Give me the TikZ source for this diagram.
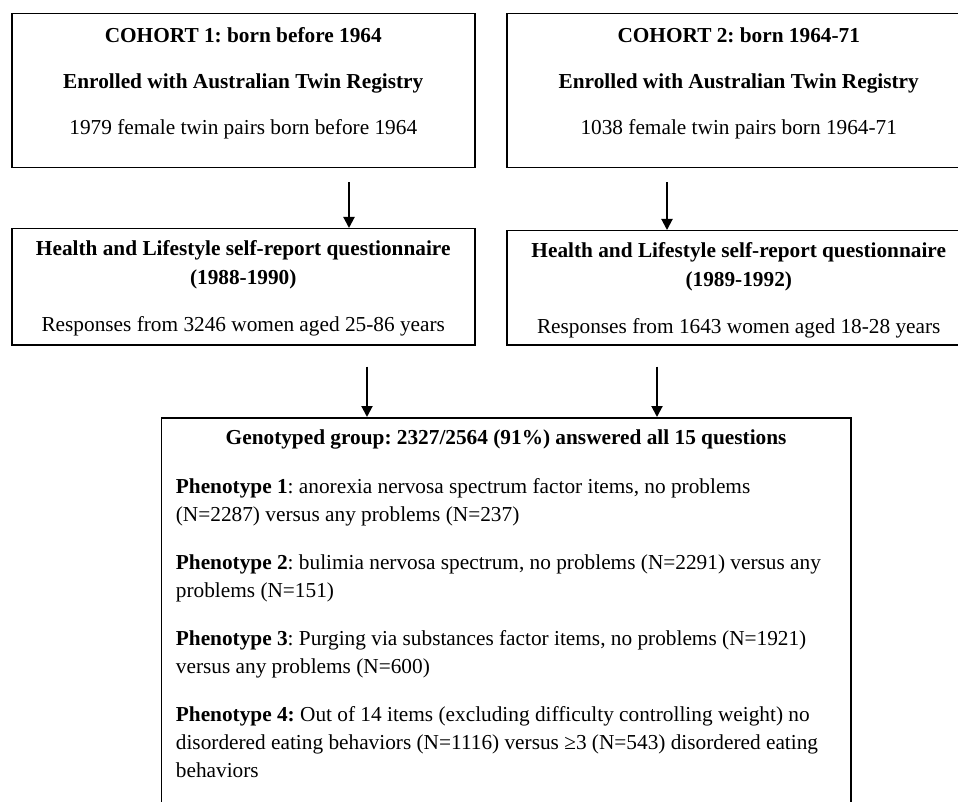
\documentclass[tikz,border=0pt]{standalone}
\usepackage{fontspec}
\setmainfont{Liberation Serif}
\usetikzlibrary{arrows.meta}
\tikzset{
  box/.style={draw=black, line width=1.5pt, inner sep=0pt, anchor=north west},
  txt/.style={inner sep=0pt, align=center, font=\fontsize{21.3}{28.5}\selectfont},
  ltxt/.style={inner sep=0pt, align=left, font=\fontsize{21.3}{28}\selectfont},
  arr/.style={line width=2pt, -{Triangle[length=11pt,width=11pt]}}
}
\begin{document}
\frenchspacing
\begin{tikzpicture}[x=1pt,y=-1pt]
\useasboundingbox (0,0) rectangle (958,802);
\clip (0,0) rectangle (958,802);
\fill[white] (0,0) rectangle (958,802);
% boxes
\node[box, minimum width=463pt, minimum height=154pt] (b1) at (11,13) {};
\node[box, minimum width=464pt, minimum height=154pt] (b2) at (506,13) {};
\node[box, minimum width=463pt, minimum height=116pt] (b3) at (11,228) {};
\node[box, minimum width=464pt, minimum height=114pt] (b4) at (506,230) {};
\node[box, minimum width=689.3pt, minimum height=420pt] (b5) at (160.7,417) {};
% helper x positions for the arrows
\coordinate (x1) at (349,0);
\coordinate (x2) at (667,0);
\coordinate (x3) at (367,0);
\coordinate (x4) at (657,0);
% texts
\node[txt, anchor=north] (t1) at ([yshift=-14.5pt]b1.north)
  {\textbf{COHORT 1: born before 1964}\\[17.5pt]
   \textbf{Enrolled with Australian Twin Registry}\\[17.5pt]
   1979 female twin pairs born before 1964};
\node[txt, anchor=north] (t2) at ([yshift=-14.5pt]b2.north)
  {\textbf{COHORT 2: born 1964-71}\\[17.5pt]
   \textbf{Enrolled with Australian Twin Registry}\\[17.5pt]
   1038 female twin pairs born 1964-71};
\node[txt, anchor=north] (t3) at ([yshift=-12.5pt]b3.north)
  {\textbf{Health and Lifestyle self-report questionnaire}\\
   \textbf{(1988-1990)}\\[19pt]
   Responses from 3246 women aged 25-86 years};
\node[txt, anchor=north] (t4) at ([yshift=-12.5pt]b4.north)
  {\textbf{Health and Lifestyle self-report questionnaire}\\
   \textbf{(1989-1992)}\\[19pt]
   Responses from 1643 women aged 18-28 years};
\node[txt, anchor=north] (t5) at ([yshift=-13pt]b5.north)
  {\textbf{Genotyped group: 2327/2564 (91\%) answered all 15 questions}};
\node[ltxt, anchor=north west] (t6) at ([xshift=15pt,yshift=-61.5pt]b5.north west)
  {\textbf{Phenotype 1}: anorexia nervosa spectrum factor items, no problems\\
   (N=2287) versus any problems (N=237)\\[20pt]
   \textbf{Phenotype 2}: bulimia nervosa spectrum, no problems (N=2291) versus any\\
   problems (N=151)\\[20pt]
   \textbf{Phenotype 3}: Purging via substances factor items, no problems (N=1921)\\
   versus any problems (N=600)\\[20pt]
   \textbf{Phenotype 4:} Out of 14 items (excluding difficulty controlling weight) no\\
   disordered eating behaviors (N=1116) versus ≥3 (N=543) disordered eating\\
   behaviors};
% arrows
\draw[arr] (b1.south -| x1) ++(0,14) -- (b3.north -| x1);
\draw[arr] (b2.south -| x2) ++(0,14) -- (b4.north -| x2);
\draw[arr] (b3.south -| x3) ++(0,21) -- (b5.north -| x3);
\draw[arr] (b4.south -| x4) ++(0,21) -- (b5.north -| x4);
\end{tikzpicture}
\end{document}
